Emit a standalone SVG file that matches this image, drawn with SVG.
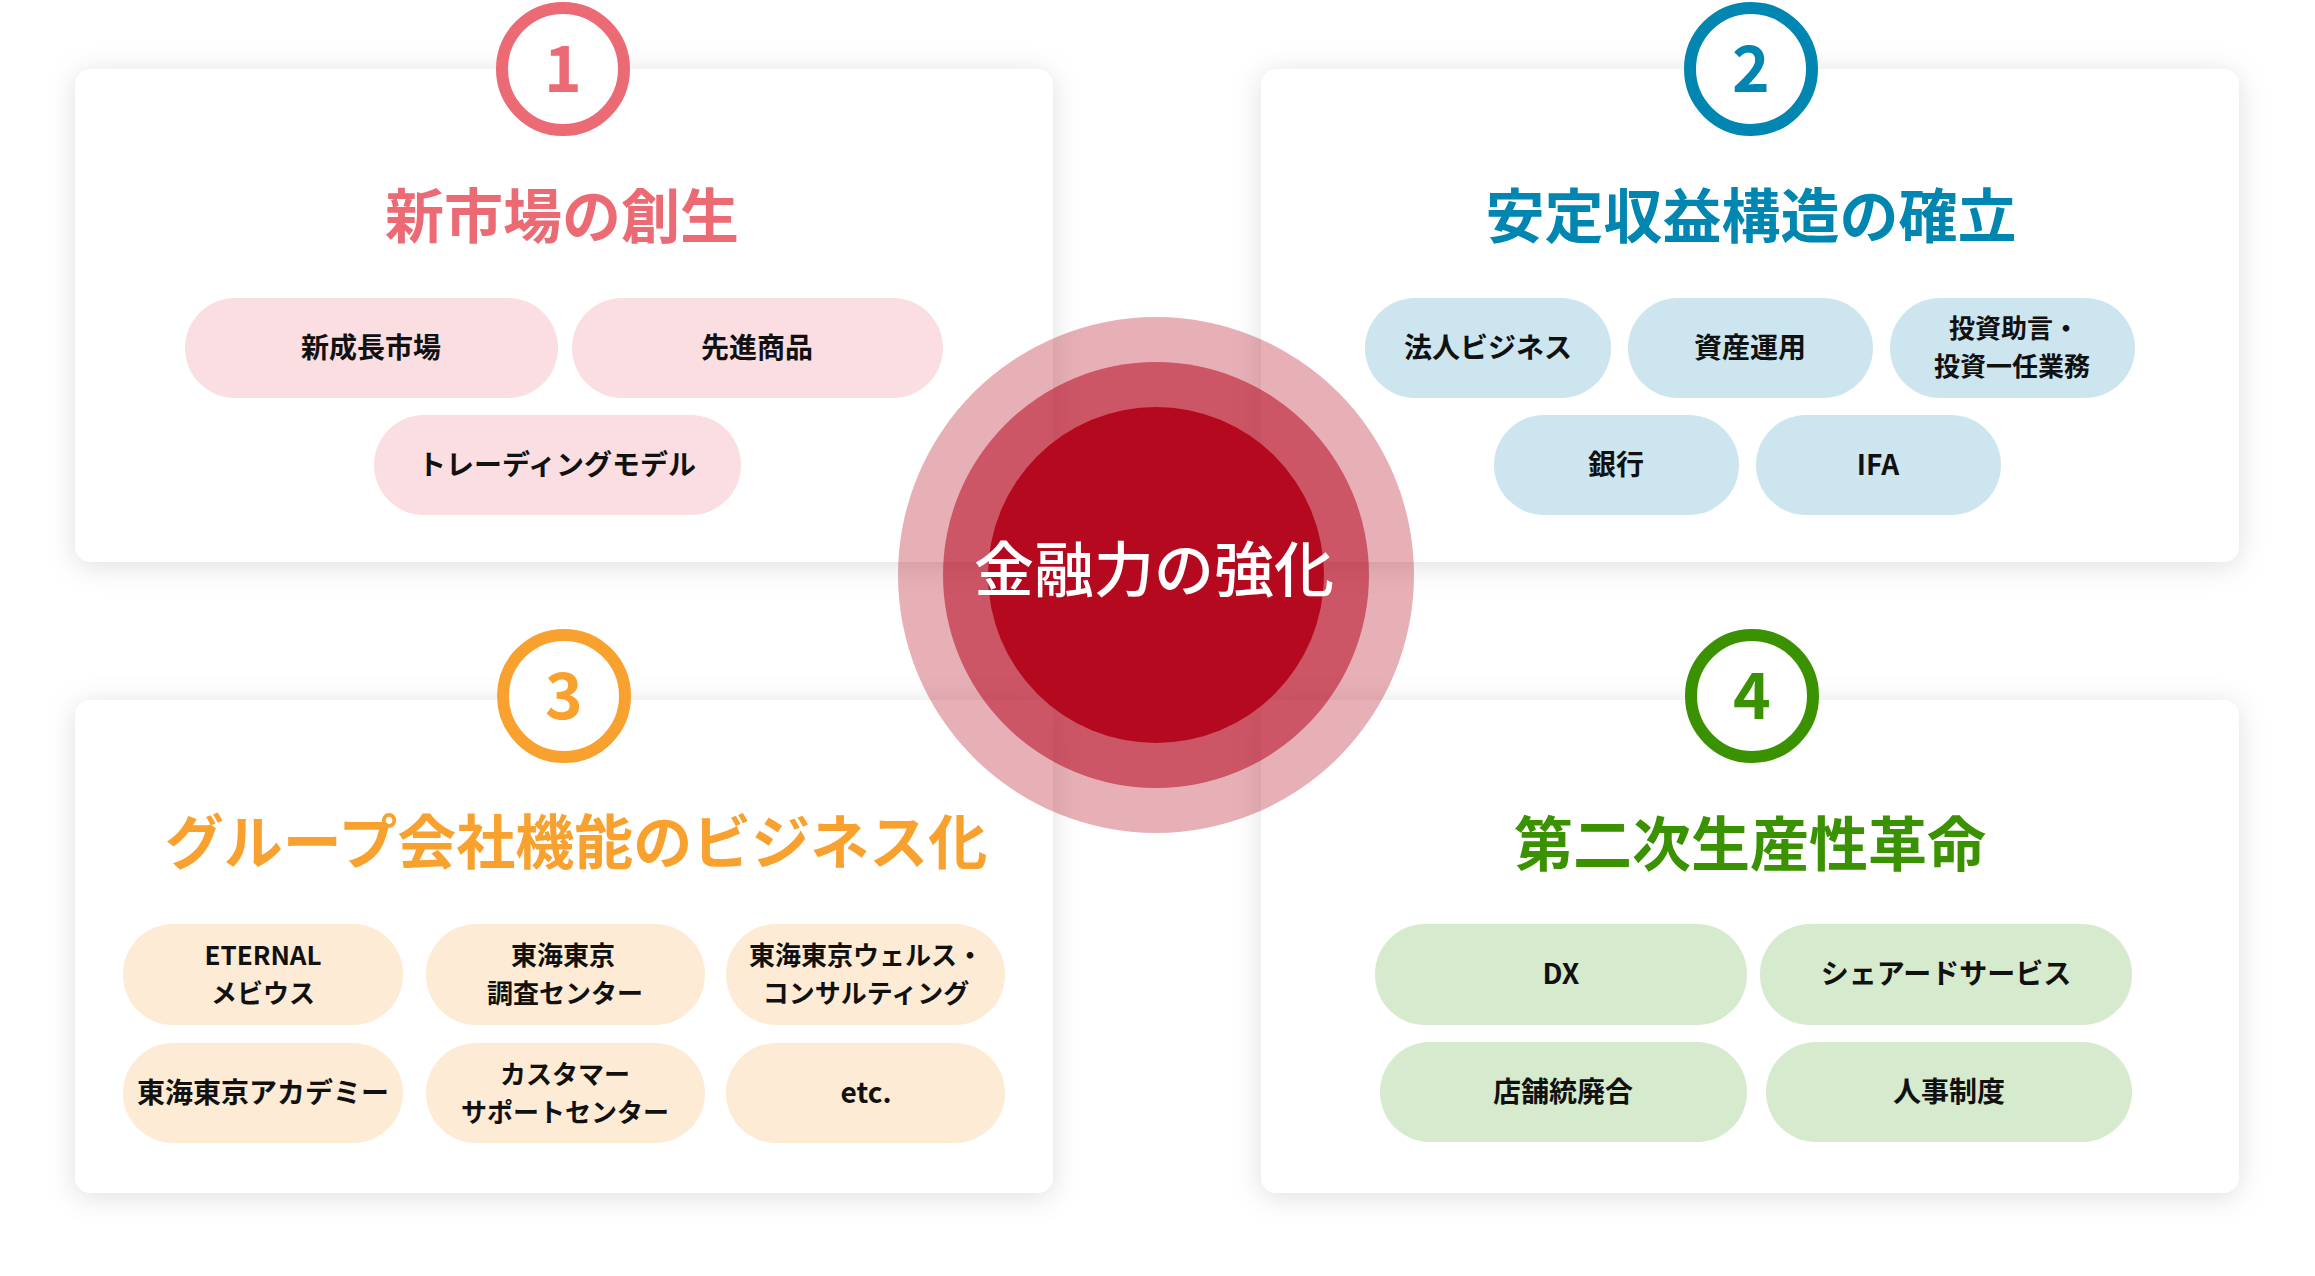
<svg xmlns="http://www.w3.org/2000/svg" width="2315" height="1276" viewBox="0 0 2315 1276">
<defs>
<filter id="sh" x="-10%" y="-15%" width="120%" height="130%">
<feDropShadow dx="0" dy="4" stdDeviation="14" flood-color="#000" flood-opacity="0.13"/>
</filter>
<style>
.card{fill:#fff;filter:url(#sh)}
.badge{fill:#fff;stroke-width:12}
.num{font-family:"Noto Sans CJK JP","Noto Sans",sans-serif;font-weight:700;font-size:64px;text-anchor:middle}
.title{font-family:"Noto Sans CJK JP",sans-serif;font-weight:700;font-size:59px;text-anchor:middle}
.pt{font-family:"Noto Sans CJK JP",sans-serif;font-weight:700;font-size:28px;text-anchor:middle;fill:#111}
.pt2{font-family:"Noto Sans CJK JP",sans-serif;font-weight:700;font-size:26px;text-anchor:middle;fill:#111}
.p1{fill:#fadee2}.p2{fill:#cde5ee}.p3{fill:#fdebd5}.p4{fill:#d6eacd}
.c1{fill:#ec6a74}.c2{fill:#0086b0}.c3{fill:#f8a12e}.c4{fill:#3a9200}
</style>
</defs>
<rect width="2315" height="1276" fill="#fff"/>

<g id="card1">
<rect class="card" x="75" y="69" width="978" height="493" rx="16"/>
<circle class="badge" cx="563" cy="69" r="61" stroke="#ec6a74"/>
<text class="num c1" x="563" y="92">1</text>
<text class="title c1" x="562" y="238">新市場の創生</text>
<rect class="p1" x="185" y="298" width="373" height="100" rx="50"/>
<text class="pt" x="371" y="358">新成長市場</text>
<rect class="p1" x="572" y="298" width="371" height="100" rx="50"/>
<text class="pt" x="757" y="358">先進商品</text>
<rect class="p1" x="374" y="415" width="367" height="100" rx="50"/>
<text class="pt" x="557" y="475">トレーディングモデル</text>
</g>

<g id="card2">
<rect class="card" x="1261" y="69" width="978" height="493" rx="16"/>
<circle class="badge" cx="1751" cy="69" r="61" stroke="#0086b0"/>
<text class="num c2" x="1751" y="92">2</text>
<text class="title c2" x="1751" y="238">安定収益構造の確立</text>
<rect class="p2" x="1365" y="298" width="246" height="100" rx="50"/>
<text class="pt" x="1488" y="358">法人ビジネス</text>
<rect class="p2" x="1628" y="298" width="245" height="100" rx="50"/>
<text class="pt" x="1750" y="358">資産運用</text>
<rect class="p2" x="1890" y="298" width="245" height="100" rx="50"/>
<text class="pt2" y="338"><tspan x="2014">投資助言・</tspan><tspan x="2012" dy="38">投資一任業務</tspan></text>
<rect class="p2" x="1494" y="415" width="245" height="100" rx="50"/>
<text class="pt" x="1616" y="475">銀行</text>
<rect class="p2" x="1756" y="415" width="245" height="100" rx="50"/>
<text class="pt" x="1878" y="475">IFA</text>
</g>

<g id="card3">
<rect class="card" x="75" y="700" width="978" height="493" rx="16"/>
<circle class="badge" cx="564" cy="696" r="61" stroke="#f8a12e"/>
<text class="num c3" x="564" y="719">3</text>
<text class="title c3" x="576" y="864">グループ会社機能のビジネス化</text>
<rect class="p3" x="123" y="924" width="280" height="101" rx="50"/>
<text class="pt2" y="965"><tspan x="263">ETERNAL</tspan><tspan x="263" dy="38">メビウス</tspan></text>
<rect class="p3" x="426" y="924" width="279" height="101" rx="50"/>
<text class="pt2" y="965"><tspan x="563">東海東京</tspan><tspan x="565" dy="38">調査センター</tspan></text>
<rect class="p3" x="726" y="924" width="279" height="101" rx="50"/>
<text class="pt2" y="965"><tspan x="866">東海東京ウェルス・</tspan><tspan x="866" dy="38">コンサルティング</tspan></text>
<rect class="p3" x="123" y="1043" width="280" height="100" rx="50"/>
<text class="pt" x="263" y="1103">東海東京アカデミー</text>
<rect class="p3" x="426" y="1043" width="279" height="100" rx="50"/>
<text class="pt2" y="1084"><tspan x="565">カスタマー</tspan><tspan x="565" dy="38">サポートセンター</tspan></text>
<rect class="p3" x="726" y="1043" width="279" height="100" rx="50"/>
<text class="pt" x="866" y="1103">etc.</text>
</g>

<g id="card4">
<rect class="card" x="1261" y="700" width="978" height="493" rx="16"/>
<circle class="badge" cx="1752" cy="696" r="61" stroke="#3a9200"/>
<text class="num c4" x="1752" y="719">4</text>
<text class="title c4" x="1750" y="866">第二次生産性革命</text>
<rect class="p4" x="1375" y="924" width="372" height="101" rx="50"/>
<text class="pt" x="1561" y="984">DX</text>
<rect class="p4" x="1760" y="924" width="372" height="101" rx="50"/>
<text class="pt" x="1946" y="984">シェアードサービス</text>
<rect class="p4" x="1380" y="1042" width="367" height="100" rx="50"/>
<text class="pt" x="1563" y="1102">店舗統廃合</text>
<rect class="p4" x="1766" y="1042" width="366" height="100" rx="50"/>
<text class="pt" x="1949" y="1102">人事制度</text>
</g>

<g id="center">
<circle cx="1156" cy="575" r="258" fill="#b5091f" fill-opacity="0.32"/>
<circle cx="1156" cy="575" r="213" fill="#b5091f" fill-opacity="0.54"/>
<circle cx="1156" cy="575" r="168" fill="#b5091f"/>
<text x="1154" y="592" font-family="'Noto Sans CJK JP',sans-serif" font-weight="500" font-size="60" fill="#fff" text-anchor="middle">金融力の強化</text>
</g>

<g id="connectors"/>
</svg>
